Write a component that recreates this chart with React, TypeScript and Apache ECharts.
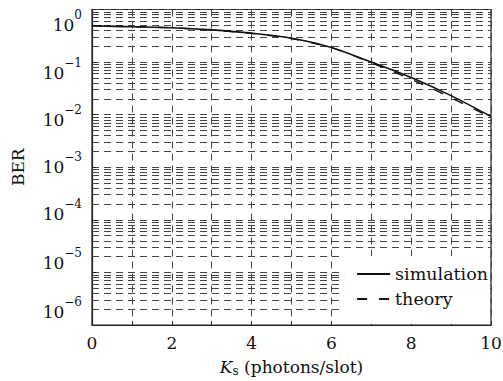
import React, { useEffect, useRef } from "react";
import * as echarts from "echarts";

const ks = [0, 1, 2, 3, 4, 5, 6, 7, 8, 9, 10];
const simulation = [0.49, 0.47, 0.45, 0.41, 0.355, 0.285, 0.19, 0.1, 0.051, 0.023, 0.0092];
const theory = [0.49, 0.47, 0.45, 0.405, 0.35, 0.28, 0.188, 0.097, 0.047, 0.021, 0.0088];
const decades = [0, -1, -2, -3, -4, -5, -6];
const minorMultipliers = [2, 3, 4, 5, 6, 7, 8, 9];

const FONT = "DejaVu Serif";

export default function App() {
  const ref = useRef<HTMLDivElement>(null);
  useEffect(() => {
    if (!ref.current) return;
    const chart = echarts.init(ref.current, null, { renderer: "svg" });

    const labelShift = [15, 11, 5, 0, -6, -9, -13];
    const rich: any = {
      b: { fontSize: 17, lineHeight: 32, fontFamily: FONT, color: "#111" },
      s: { fontSize: 12, lineHeight: 12, verticalAlign: "top", fontFamily: FONT, color: "#111" },
    };
    labelShift.forEach((D, k) => {
      rich["g" + k] = { fontSize: 1, lineHeight: Math.max(1, Math.abs(2 * D)), color: "rgba(0,0,0,0)" };
    });

    const minorLines: any[] = [];
    decades.slice(1).forEach((e) => {
      minorMultipliers.forEach((m) => minorLines.push({ yAxis: m * Math.pow(10, e) }));
    });

    const gridDash = { color: "#444", width: 1, type: [7, 5] as any };

    chart.setOption({
      animation: false,
      backgroundColor: "#fff",
      grid: {
        left: 92,
        right: 12,
        top: 9.5,
        bottom: 56,
        containLabel: false,
        outerBoundsMode: "none",
        show: true,
        borderColor: "#222",
        borderWidth: 1.2,
      },
      legend: {
        right: 13,
        bottom: 57,
        orient: "vertical",
        backgroundColor: "#fff",
        padding: [9, 2, 16, 12],
        itemGap: 7,
        itemWidth: 33,
        itemHeight: 14,
        itemStyle: { opacity: 0 },
        textStyle: { fontFamily: FONT, fontSize: 17.5, color: "#111" },
        data: ["simulation", "theory"],
      },
      xAxis: {
        type: "value",
        min: 0,
        max: 10,
        interval: 1,
        name: "{k|K}{sub|s}{t| (photons/slot)}",
        nameLocation: "middle",
        nameGap: 32,
        nameTextStyle: {
          rich: {
            k: { fontFamily: FONT, fontSize: 17, fontStyle: "italic", color: "#111", lineHeight: 20 },
            sub: { fontFamily: FONT, fontSize: 12, color: "#111", lineHeight: 12, verticalAlign: "bottom" },
            t: { fontFamily: FONT, fontSize: 17, color: "#111", lineHeight: 20 },
          },
        },
        axisLine: { lineStyle: { color: "#222", width: 1.2 } },
        axisTick: { inside: true, length: 4, lineStyle: { color: "#222" } },
        axisLabel: {
          margin: 9,
          fontFamily: FONT,
          fontSize: 17,
          color: "#111",
          formatter: (v: number) => (Math.round(v) % 2 === 0 ? String(v) : ""),
        },
        splitLine: { show: true, lineStyle: gridDash },
      },
      yAxis: {
        type: "log",
        logBase: 10,
        min: 1e-6,
        max: 1,
        name: "BER",
        nameLocation: "middle",
        nameGap: 66,
        nameRotate: 90,
        nameTextStyle: { fontFamily: FONT, fontSize: 17, color: "#111" },
        axisLine: { lineStyle: { color: "#222", width: 1.2 } },
        axisTick: { inside: true, length: 4, lineStyle: { color: "#222" } },
        axisLabel: {
          margin: 10,
          hideOverlap: false,
          showMinLabel: true,
          showMaxLabel: true,
          formatter: (v: number) => {
            const e = Math.round(Math.log10(v));
            const k = -e;
            const main = `{b|10}{s|${e === 0 ? "0" : "\u2212" + -e}}`;
            const D = labelShift[k] ?? 0;
            if (D > 0) return `{g${k}| }\n${main}`;
            if (D < 0) return `${main}\n{g${k}| }`;
            return main;
          },
          rich,
        },
        splitLine: { show: true, lineStyle: gridDash },
      },
      series: [
        {
          name: "simulation",
          type: "line",
          data: ks.map((x, i) => [x, simulation[i]]),
          smooth: 0.3,
          symbol: "none",
          lineStyle: { color: "#111", width: 1.6, type: "solid" },
          itemStyle: { color: "#111" },
          z: 3,
          markLine: {
            silent: true,
            precision: 12,
            symbol: ["none", "none"],
            label: { show: false },
            lineStyle: gridDash,
            animation: false,
            data: minorLines,
            z: 1,
          },
        },
        {
          name: "theory",
          type: "line",
          data: ks.map((x, i) => [x, theory[i]]),
          smooth: 0.3,
          symbol: "none",
          lineStyle: { color: "#111", width: 1.4, type: [10, 12] },
          itemStyle: { color: "#111" },
          z: 3,
        },
      ],
    });
    return () => chart.dispose();
  }, []);
  return <div ref={ref} style={{ position: "absolute", left: 0, top: 0, width: 503, height: 381 }} />;
}
